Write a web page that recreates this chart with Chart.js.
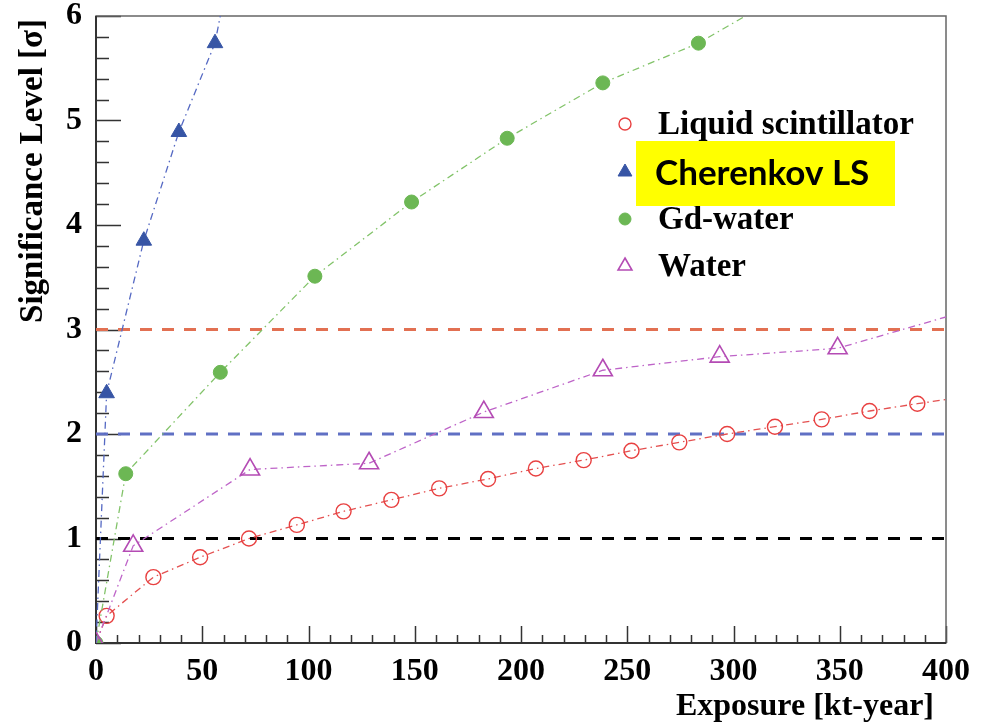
<!DOCTYPE html>
<html>
<head>
<meta charset="utf-8">
<script src="https://cdn.jsdelivr.net/npm/chart.js@4/dist/chart.umd.min.js"></script>
<style>
  html, body { margin: 0; padding: 0; background: #fff; }
  canvas { display: block; }
</style>
</head>
<body>
<canvas id="sig-chart" width="984" height="722"></canvas>
<script>
// values (exposure in kt-year, significance in sigma)
const lsX = [0, 5, 27, 49, 72, 94.5, 116.5, 139, 161.5, 184.5, 207, 229.5, 252, 274.5, 297, 319.5, 341.5, 364, 386.5, 400];
const lsY = [0, 0.26, 0.63, 0.82, 1.00, 1.13, 1.26, 1.37, 1.48, 1.57, 1.67, 1.75, 1.84, 1.92, 2.00, 2.07, 2.14, 2.22, 2.29, 2.33];

const clsX = [0, 5, 22.5, 39, 56, 60];
const clsY = [0, 2.39, 3.85, 4.89, 5.74, 6.16];

const gdX = [0, 14, 58.5, 103, 148.5, 193.5, 238.5, 283.5, 320];
const gdY = [0, 1.62, 2.59, 3.51, 4.22, 4.83, 5.36, 5.74, 6.17];

const wX = [0, 17.5, 72.5, 128.5, 182.5, 238.5, 293.5, 349, 400];
const wY = [0, 0.93, 1.66, 1.72, 2.21, 2.61, 2.74, 2.82, 3.12];

const refLevels = [3, 2, 1];
const xTicks = [0, 50, 100, 150, 200, 250, 300, 350, 400];
const yTicks = [0, 1, 2, 3, 4, 5, 6];

const seriesNames = ["Liquid scintillator", "Cherenkov LS", "Gd-water", "Water"];

const serif = "'Liberation Serif', 'Times New Roman', serif";
const dashDot = [7, 4, 1.5, 4];

function pts(xs, ys) {
  return xs.map((x, i) => ({ x: x, y: ys[i] }));
}
// hide the marker on the first point (origin) and on extension points
function radii(n, r, hideFirst, hideLast) {
  return Array.from({ length: n }, (_, i) =>
    (hideFirst && i === 0) || (hideLast && i === n - 1) ? 0 : r);
}

const refColors = ["rgb(226,112,82)", "rgb(96,112,196)", "#000"];

const datasets = [
  {
    label: seriesNames[1], data: pts(clsX, clsY), order: 1,
    borderColor: "rgb(85,105,195)", borderWidth: 1.3, borderDash: dashDot,
    pointStyle: "triangle", pointRadius: radii(clsX.length, 9, true, true),
    pointBackgroundColor: "rgb(55,85,165)", pointBorderColor: "rgb(55,85,165)", pointBorderWidth: 1
  },
  {
    label: seriesNames[3], data: pts(wX, wY), order: 2,
    borderColor: "rgb(190,100,200)", borderWidth: 1.3, borderDash: dashDot,
    pointStyle: "triangle", pointRadius: radii(wX.length, 11, false, true),
    pointBackgroundColor: "rgba(0,0,0,0)", pointBorderColor: "rgb(180,75,180)", pointBorderWidth: 1.6
  },
  {
    label: seriesNames[2], data: pts(gdX, gdY), order: 3,
    borderColor: "rgb(130,195,105)", borderWidth: 1.3, borderDash: dashDot,
    pointStyle: "circle", pointRadius: radii(gdX.length, 7, false, true),
    pointBackgroundColor: "rgb(108,183,84)", pointBorderColor: "rgb(108,183,84)", pointBorderWidth: 1
  },
  {
    label: seriesNames[0], data: pts(lsX, lsY), order: 4,
    borderColor: "rgb(228,80,80)", borderWidth: 1.3, borderDash: dashDot,
    pointStyle: "circle", pointRadius: radii(lsX.length, 7.5, true, true),
    pointBackgroundColor: "rgba(0,0,0,0)", pointBorderColor: "rgb(232,64,64)", pointBorderWidth: 1.4
  }
];

refLevels.forEach((lvl, i) => {
  datasets.push({
    label: "ref" + lvl, data: [{ x: xTicks[0], y: lvl }, { x: xTicks[xTicks.length - 1], y: lvl }],
    order: 10 + i, borderColor: refColors[i], borderWidth: 3, borderDash: [12, 10],
    pointRadius: 0
  });
});

// ROOT-like frame with inward ticks, titles and the legend box
const rootFrame = {
  id: "rootFrame",
  beforeDatasetsDraw(chart) {
    const { ctx, chartArea: a, scales: { x, y } } = chart;
    ctx.save();
    ctx.strokeStyle = "#333";
    ctx.lineWidth = 1.5;
    ctx.beginPath();
    for (let k = 0; k <= 30; k++) {
      const py = Math.round(y.getPixelForValue(k / 5)) + 0.5;
      const len = k % 5 === 0 ? 25 : 13;
      ctx.moveTo(a.left, py); ctx.lineTo(a.left + len, py);
    }
    for (let k = 0; k <= 40; k++) {
      const px = Math.round(x.getPixelForValue(k * 10)) + 0.5;
      const len = k % 5 === 0 ? 17 : 8;
      ctx.moveTo(px, a.bottom); ctx.lineTo(px, a.bottom - len);
    }
    ctx.stroke();
    // frame
    ctx.strokeStyle = "#666";
    ctx.lineWidth = 1.5;
    ctx.strokeRect(a.left, a.top, a.right - a.left, a.bottom - a.top);
    ctx.strokeStyle = "#333";
    ctx.lineWidth = 2;
    ctx.beginPath();
    ctx.moveTo(a.left, a.top); ctx.lineTo(a.left, a.bottom); ctx.lineTo(a.right, a.bottom);
    ctx.stroke();
    ctx.restore();
  },
  afterDraw(chart) {
    const { ctx } = chart;
    ctx.save();
    ctx.fillStyle = "#000";
    // axis titles
    ctx.textBaseline = "middle";
    ctx.textAlign = "right";
    ctx.font = "bold 32px " + serif;
    ctx.fillText("Exposure [kt-year]", 934, 707);
    ctx.save();
    ctx.translate(33, 19);
    ctx.rotate(-Math.PI / 2);
    ctx.font = "bold 33px " + serif;
    ctx.fillText("Significance Level [\u03c3]", 0, 0);
    ctx.restore();

    // legend
    const rowY = [124, 172, 219, 266];
    ctx.textAlign = "left";
    ctx.font = "bold 33px " + serif;
    seriesNames.forEach((name, i) => {
      const ds = chart.data.datasets.find(d => d.label === name);
      const r = ds.pointStyle === "circle" ? 6 : 8;
      ctx.fillStyle = ds.pointBackgroundColor;
      ctx.strokeStyle = ds.pointBorderColor;
      ctx.lineWidth = ds.pointBorderWidth;
      Chart.helpers.drawPoint(ctx, { pointStyle: ds.pointStyle, radius: r, rotation: 0, borderWidth: ds.pointBorderWidth }, 625, rowY[i]);
      ctx.fillStyle = "#000";
      if (i !== 1) ctx.fillText(name, 658, rowY[i] + 1);
    });
    // highlighted label
    ctx.fillStyle = "#ffff00";
    ctx.fillRect(636, 141, 259, 65);
    ctx.fillStyle = "#000";
    ctx.font = "bold 35px Lato, 'Open Sans', sans-serif";
    ctx.fillText(seriesNames[1], 655, 174);
    ctx.restore();
  }
};

const tickFont = { family: serif, weight: "bold", size: 32 };

new Chart(document.getElementById("sig-chart"), {
  type: "line",
  data: { datasets: datasets },
  options: {
    responsive: false,
    animation: false,
    layout: { padding: { left: 0, right: 38, top: 16, bottom: 0 } },
    plugins: { legend: { display: false }, tooltip: { enabled: false } },
    scales: {
      x: {
        type: "linear", min: 0, max: 400,
        afterFit: s => { s.height = 79; s.paddingLeft = 0; s.paddingRight = 0; },
        afterBuildTicks: s => { s.ticks = xTicks.map(v => ({ value: v })); },
        border: { display: false },
        grid: { display: false, drawTicks: false },
        ticks: { color: "#000", font: tickFont, padding: 10, maxRotation: 0 }
      },
      y: {
        type: "linear", min: 0, max: 6,
        afterFit: s => { s.width = 96; s.paddingTop = 0; s.paddingBottom = 0; },
        afterBuildTicks: s => { s.ticks = yTicks.map(v => ({ value: v })); },
        border: { display: false },
        grid: { display: false, drawTicks: false },
        ticks: { color: "#000", font: tickFont, padding: 14 }
      }
    }
  },
  plugins: [rootFrame]
});
</script>
</body>
</html>
